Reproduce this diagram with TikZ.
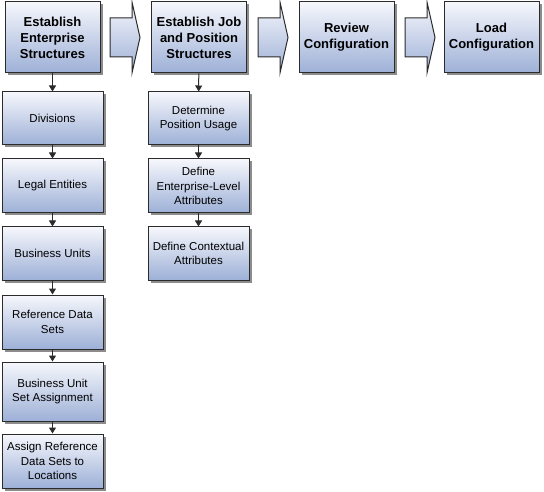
\documentclass[tikz,border=0pt]{standalone}
\usepackage{fontspec}
\setmainfont{Liberation Sans}
\usetikzlibrary{shadows,arrows.meta}

\definecolor{boxtop}{HTML}{F6F7FC}
\definecolor{boxbot}{HTML}{9DB0D7}
\definecolor{boxline}{HTML}{2B2B2B}

\tikzset{
  stagebox/.style={draw=boxline,line width=1pt,top color=boxtop,bottom color=boxbot,
    drop shadow={shadow xshift=2.5pt,shadow yshift=-2.5pt,fill=black!45,opacity=1},
    minimum width=95pt,minimum height=71pt,align=center,inner sep=1pt,
    font=\fontsize{13}{16}\selectfont\bfseries},
  taskbox/.style={draw=boxline,line width=1pt,top color=boxtop,bottom color=boxbot,
    drop shadow={shadow xshift=2.5pt,shadow yshift=-2.5pt,fill=black!45,opacity=1},
    minimum width=101pt,align=center,inner sep=1pt,
    font=\fontsize{11.5}{14.5}\selectfont},
  flowarrow/.style={draw=boxline,line width=1pt,top color=boxtop,bottom color=boxbot},
  link/.style={-{Triangle[length=6pt,width=7pt]},line width=1pt,draw=boxline}
}

\begin{document}
\begin{tikzpicture}[x=1pt,y=-1pt]
\useasboundingbox (0,0) rectangle (544,492);

\node[stagebox] (ees) at (52.5,37.5) {Establish\\Enterprise\\Structures};
\node[stagebox] (ejp) at (199,37.5) {Establish Job\\and Position\\Structures};
\node[stagebox] (rc) at (346.5,37.5) {Review\\Configuration};
\node[stagebox] (lc) at (491.5,37.5) {Load\\Configuration};

\node[taskbox,minimum height=53pt] (div) at (52.5,118.5) {Divisions};
\node[taskbox,minimum height=54pt] (le) at (52.5,186) {Legal Entities};
\node[taskbox,minimum height=53pt] (bu) at (52.5,253.5) {Business Units};
\node[taskbox,minimum height=54pt] (rds) at (52.5,322) {Reference Data\\Sets};
\node[taskbox,minimum height=59pt] (busa) at (52.5,391.5) {Business Unit\\Set Assignment};
\node[taskbox,minimum height=54pt] (ards) at (52.5,461) {Assign Reference\\Data Sets to\\Locations};

\node[taskbox,minimum height=53pt] (dpu) at (198.5,118.5) {Determine\\Position Usage};
\node[taskbox,minimum height=54pt] (dea) at (198.5,186) {Define\\Enterprise-Level\\Attributes};
\node[taskbox,minimum height=53pt] (dca) at (198.5,253.5) {Define Contextual\\Attributes};

% block arrows between the stages
\foreach \ax in {110,258,405}{
  \draw[flowarrow] (\ax,18) -- (\ax+22,18) -- (\ax+22,2) -- (\ax+30,37.5)
    -- (\ax+22,73) -- (\ax+22,57) -- (\ax,57) -- cycle;
}

\draw[link] (ees) -- (div);
\draw[link] (div) -- (le);
\draw[link] (le) -- (bu);
\draw[link] (bu) -- (rds);
\draw[link] (rds) -- (busa);
\draw[link] (busa) -- (ards);

\draw[link] (ejp) -- (dpu);
\draw[link] (dpu) -- (dea);
\draw[link] (dea) -- (dca);

\end{tikzpicture}
\end{document}
